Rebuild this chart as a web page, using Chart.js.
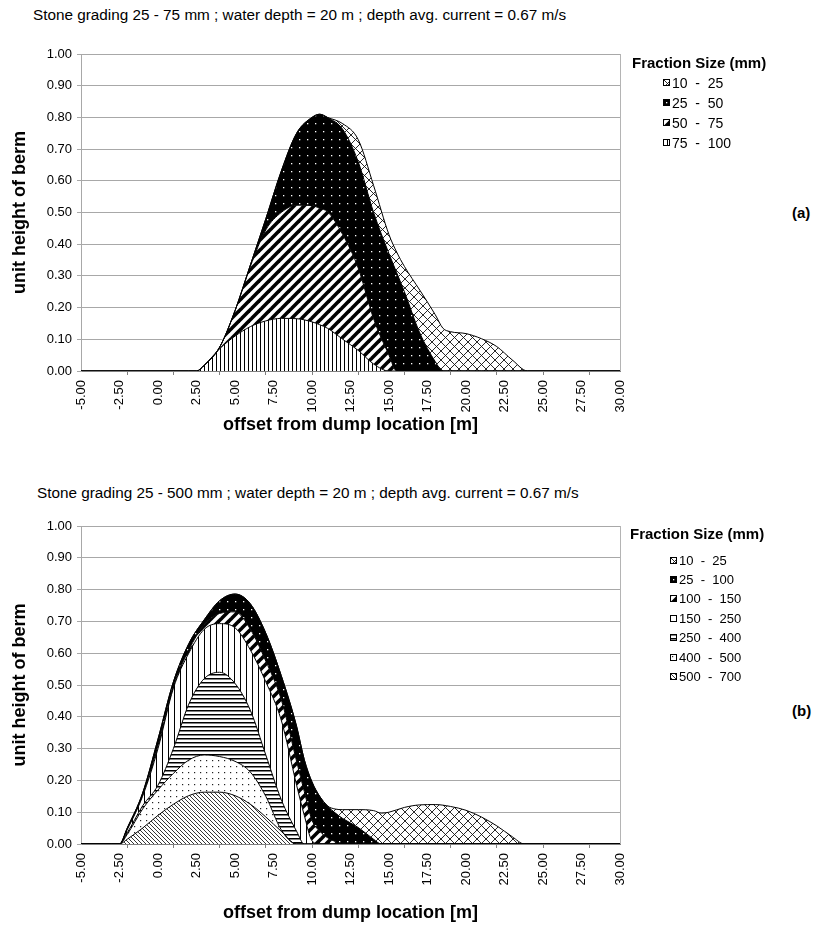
<!DOCTYPE html>
<html><head><meta charset="utf-8">
<script src="https://cdn.jsdelivr.net/npm/chart.js@4.4.1/dist/chart.umd.min.js"></script>
<style>
html,body{margin:0;padding:0;background:#fff;}
body{width:816px;height:935px;position:relative;overflow:hidden;font-family:'Liberation Sans',Arial,sans-serif;color:#000;}
.abs{position:absolute;white-space:pre;}
.ttl{font-size:15.3px;line-height:18px;}
.lgt{font-size:15px;font-weight:bold;line-height:17px;}
.lgi{display:flex;align-items:center;}
.lgi canvas{display:block;margin-right:2px;}
.tag{font-size:15px;font-weight:bold;line-height:17px;}
canvas.chart{position:absolute;left:0;}
</style></head>
<body>
<div class="abs ttl" style="left:33px;top:6px;">Stone grading 25 - 75 mm ; water depth = 20 m ; depth avg. current = 0.67 m/s</div>
<div class="abs ttl" style="left:37px;top:484px;">Stone grading 25 - 500 mm ; water depth = 20 m ; depth avg. current = 0.67 m/s</div>
<div class="abs tag" style="left:792px;top:204px;">(a)</div>
<div class="abs tag" style="left:792px;top:702px;">(b)</div>
<canvas id="chartA" class="chart" style="top:0px;" width="816" height="460"></canvas>
<canvas id="chartB" class="chart" style="top:470px;" width="816" height="465"></canvas>
<div id="legA"></div>
<div id="legB"></div>
<script>
// ---------- DATA (cumulative top of each fraction band, unit height of berm) ----------
// Chart (a): stone grading 25 - 75 mm
const xA = [-5, 2, 2.5, 3, 4, 5, 6, 7, 8, 9, 10, 10.5, 11, 12, 13, 14, 15, 15.5, 16, 17, 18, 18.5, 19, 20, 21, 22, 23, 24, 25, 30];
const a_75_100 = [0,0,0,0.018,0.07,0.11,0.14,0.158,0.166,0.165,0.155,0.146,0.135,0.1,0.065,0.022,0,0,0,0,0,0,0,0,0,0,0,0,0,0];
const a_50_75  = [0,0,0,0.018,0.075,0.19,0.33,0.445,0.5,0.523,0.522,0.513,0.503,0.43,0.325,0.165,0.05,0,0,0,0,0,0,0,0,0,0,0,0,0];
const a_25_50  = [0,0,0,0.018,0.075,0.19,0.335,0.48,0.63,0.75,0.8,0.81,0.8,0.762,0.66,0.5,0.37,0.31,0.25,0.12,0.03,0,0,0,0,0,0,0,0,0];
const a_10_25  = [0,0,0,0.018,0.075,0.19,0.335,0.48,0.63,0.75,0.8,0.81,0.8,0.78,0.73,0.585,0.43,0.375,0.33,0.255,0.178,0.135,0.124,0.118,0.102,0.077,0.035,0,0,0];
const labelsA = ['75  -  100', '50  -  75', '25  -  50', '10  -  25'];

// Chart (b): stone grading 25 - 500 mm
const xB = [-5, -3, -2.5, -2, -1, 0, 1, 2, 3, 4, 5, 6, 7, 8, 9, 9.5, 10, 10.5, 11, 11.5, 12, 13, 14, 14.5, 15, 16, 17, 18, 19, 20, 21, 22, 23, 23.8, 25, 30];
const b_500_700 = [0,0,0,0.015,0.05,0.09,0.125,0.152,0.163,0.163,0.152,0.125,0.085,0.04,0,0,0,0,0,0,0,0,0,0,0,0,0,0,0,0,0,0,0,0,0,0];
const b_400_500 = [0,0,0,0.03,0.11,0.17,0.222,0.264,0.28,0.275,0.26,0.226,0.15,0.045,0,0,0,0,0,0,0,0,0,0,0,0,0,0,0,0,0,0,0,0,0,0];
const b_250_400 = [0,0,0,0.035,0.12,0.185,0.3,0.44,0.52,0.54,0.505,0.42,0.28,0.14,0.04,0,0,0,0,0,0,0,0,0,0,0,0,0,0,0,0,0,0,0,0,0];
const b_150_250 = [0,0,0,0.045,0.15,0.3,0.49,0.6,0.675,0.693,0.68,0.61,0.51,0.39,0.185,0.09,0.01,0,0,0,0,0,0,0,0,0,0,0,0,0,0,0,0,0,0,0];
const b_100_150 = [0,0,0,0.047,0.155,0.31,0.495,0.61,0.69,0.725,0.73,0.675,0.575,0.455,0.26,0.165,0.075,0.04,0.02,0.008,0,0,0,0,0,0,0,0,0,0,0,0,0,0,0,0];
const b_25_100  = [0,0,0,0.05,0.16,0.33,0.51,0.63,0.705,0.765,0.786,0.755,0.663,0.53,0.37,0.265,0.195,0.15,0.12,0.098,0.08,0.052,0.015,0,0,0,0,0,0,0,0,0,0,0,0,0];
const b_10_25   = [0,0,0,0.05,0.16,0.33,0.51,0.63,0.705,0.765,0.786,0.755,0.663,0.53,0.37,0.265,0.195,0.15,0.12,0.11,0.108,0.108,0.105,0.097,0.1,0.115,0.123,0.124,0.118,0.106,0.085,0.057,0.023,0,0,0];
const labelsB = ['500  -  700', '400  -  500', '250  -  400', '150  -  250', '100  -  150', '25  -  100', '10  -  25'];

const yTicks = {min: 0, max: 1, step: 0.1};
const xTickLabels = {min: -5, max: 30, step: 2.5};
const xTickMarks = [-2, 1, 4, 7, 10, 13, 16, 19, 22, 25, 28];

// ---------- fill patterns ----------
function makePattern(kind){
  const c = document.createElement('canvas'); const g = c.getContext('2d');
  const set = (w,h,bg)=>{c.width=w;c.height=h;g.fillStyle=bg;g.fillRect(0,0,w,h);};
  const ln = (x1,y1,x2,y2)=>{g.beginPath();g.moveTo(x1,y1);g.lineTo(x2,y2);g.stroke();};
  switch(kind){
    case 'cross': set(9,9,'#fff'); g.strokeStyle='#111'; g.lineWidth=0.9; ln(-1,-1,10,10); ln(-1,10,10,-1); break;
    case 'blackDots': set(8,8,'#000'); g.fillStyle='#fff'; g.fillRect(3,3,1.3,1.3); break;
    case 'wideUp': set(10,10,'#fff'); g.strokeStyle='#000'; g.lineWidth=3.6; ln(-2,12,12,-2); ln(-5,5,5,-5); ln(5,15,15,5); break;
    case 'vert4': set(4,4,'#fff'); g.fillStyle='#000'; g.fillRect(0,0,1,4); break;
    case 'vert6': set(6,6,'#fff'); g.fillStyle='#000'; g.fillRect(0,0,1,6); break;
    case 'horiz4': set(4,4,'#fff'); g.fillStyle='#000'; g.fillRect(0,0,4,1.5); break;
    case 'dots6': set(6,6,'#fff'); g.fillStyle='#222'; g.fillRect(2,2,1.2,1.2); break;
    case 'downThin': set(4,4,'#fff'); g.strokeStyle='#000'; g.lineWidth=0.8; ln(-1,-1,5,5); ln(-1,3,1,5); ln(3,-1,5,1); break;
  }
  return g.createPattern(c,'repeat');
}

const seriesA = [
  {label: labelsA[0], values: a_75_100, pattern: makePattern('vert4')},
  {label: labelsA[1], values: a_50_75,  pattern: makePattern('wideUp')},
  {label: labelsA[2], values: a_25_50,  pattern: makePattern('blackDots')},
  {label: labelsA[3], values: a_10_25,  pattern: makePattern('cross')}
];
const seriesB = [
  {label: labelsB[0], values: b_500_700, pattern: makePattern('downThin')},
  {label: labelsB[1], values: b_400_500, pattern: makePattern('dots6')},
  {label: labelsB[2], values: b_250_400, pattern: makePattern('horiz4')},
  {label: labelsB[3], values: b_150_250, pattern: makePattern('vert6')},
  {label: labelsB[4], values: b_100_150, pattern: makePattern('wideUp')},
  {label: labelsB[5], values: b_25_100,  pattern: makePattern('blackDots')},
  {label: labelsB[6], values: b_10_25,   pattern: makePattern('cross')}
];

Chart.defaults.font.family = "'Liberation Sans', Arial, sans-serif";
Chart.defaults.color = '#000';

const frame = {id:'frame', beforeDatasetsDraw(chart){
  const {ctx, chartArea:a} = chart; ctx.save(); ctx.strokeStyle='#b4b4b4'; ctx.lineWidth=1;
  ctx.beginPath(); ctx.moveTo(Math.round(a.right)+0.5, a.top); ctx.lineTo(Math.round(a.right)+0.5, a.bottom); ctx.stroke(); ctx.restore();
}};

function makeChart(id, xs, series, padTop, padBottom, xAxisH){
  return new Chart(document.getElementById(id), {
    type: 'line',
    data: {datasets: series.map((s,i)=>({
      label: s.label,
      data: xs.map((x,j)=>({x: x, y: s.values[j]})),
      fill: i===0 ? 'origin' : '-1',
      backgroundColor: s.pattern,
      borderColor: '#000', borderWidth: 1,
      pointRadius: 0, pointHoverRadius: 0,
      cubicInterpolationMode: 'monotone'
    }))},
    options: {
      responsive: false, animation: false, events: [],
      layout: {padding: {left: 0, right: 196, top: padTop, bottom: padBottom}},
      plugins: {legend: {display: false}, tooltip: {enabled: false}, filler: {drawTime: 'beforeDatasetsDraw'}},
      scales: {
        x: {type: 'linear', position: 'bottom', weight: 1, min: xTickLabels.min, max: xTickLabels.max,
            ticks: {stepSize: xTickLabels.step, autoSkip: false, minRotation: 90, maxRotation: 90, padding: 9,
                    font: {size: 13}, color: '#000', callback: v => Number(v).toFixed(2)},
            grid: {display: false, drawTicks: false},
            border: {display: true, color: '#808080', width: 1},
            title: {display: true, text: 'offset from dump location [m]', font: {size: 18, weight: 'bold'}, color: '#000', padding: 0},
            afterFit(s){ s.height = xAxisH; }},
        xt: {type: 'linear', position: 'bottom', weight: 0, min: xTickLabels.min, max: xTickLabels.max,
            ticks: {display: false},
            afterBuildTicks(s){ s.ticks = xTickMarks.map(v => ({value: v})); },
            grid: {display: true, drawOnChartArea: false, drawTicks: true, tickLength: 4, color: '#808080'},
            border: {display: false},
            afterFit(s){ s.height = 0; }},
        y: {min: yTicks.min, max: yTicks.max,
            ticks: {stepSize: yTicks.step, padding: 5, font: {size: 13}, color: '#000', callback: v => Number(v).toFixed(2)},
            grid: {color: '#a8a8a8', tickLength: 4},
            border: {color: '#a8a8a8'},
            title: {display: true, text: 'unit height of berm', font: {size: 18, weight: 'bold'}, color: '#000', padding: {top: 9, bottom: 0}},
            afterFit(s){ s.width = 81; }}
      }
    },
    plugins: [frame]
  });
}

makeChart('chartA', xA, seriesA, 54, 460 - 371 - 65, 65);
makeChart('chartB', xB, seriesB, 56, 465 - 374 - 80, 80);

function buildLegend(el, series, o){
  let html = `<div class="abs lgt" style="left:${o.titleX}px;top:${o.titleY - 8.5}px;">Fraction Size (mm)</div>`;
  const items = series.slice().reverse();
  items.forEach((s,k)=>{
    const cy = o.itemY + k*o.step;
    html += `<div class="abs lgi" style="left:${o.boxX}px;top:${cy - 8}px;height:16px;font-size:${o.fs}px;"><canvas width="7" height="7" data-k="${k}"></canvas><span>${s.label}</span></div>`;
  });
  el.innerHTML = html;
  el.querySelectorAll('canvas').forEach(c=>{
    const s = items[+c.dataset.k]; const g = c.getContext('2d');
    g.fillStyle = s.pattern; g.fillRect(0,0,7,7);
    g.strokeStyle = '#000'; g.lineWidth = 1; g.strokeRect(0.5,0.5,6,6);
  });
}
buildLegend(document.getElementById('legA'), seriesA, {titleX: 632, titleY: 62.7, boxX: 663, itemY: 82.7, step: 20, fs: 14});
buildLegend(document.getElementById('legB'), seriesB, {titleX: 630, titleY: 533, boxX: 670, itemY: 560, step: 19.4, fs: 13});
</script>
</body></html>
